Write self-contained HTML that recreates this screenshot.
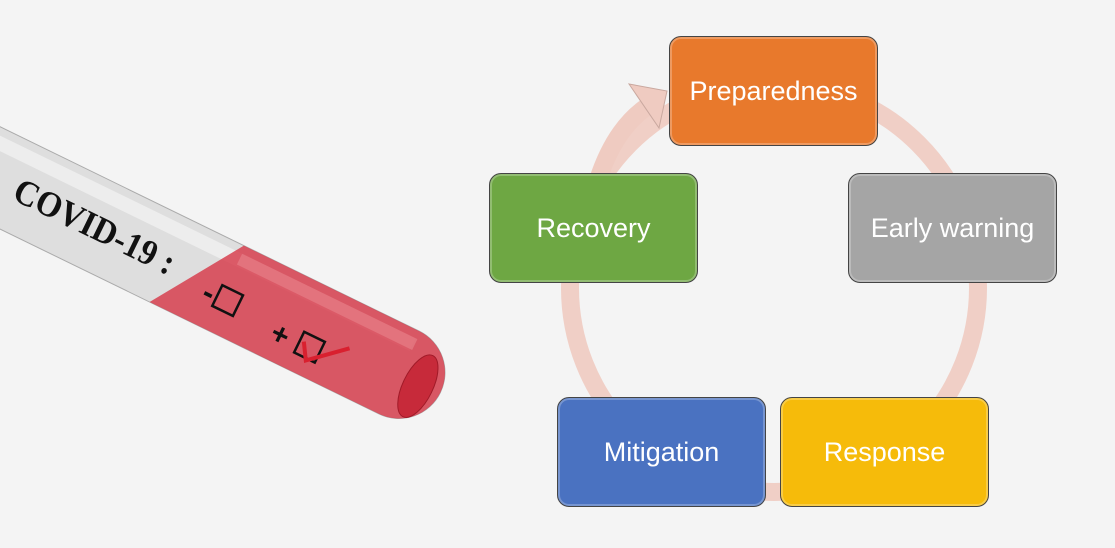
<!DOCTYPE html>
<html><head><style>
body{margin:0;width:1115px;height:548px;background:#f4f4f4;overflow:hidden;font-family:"Liberation Sans",sans-serif}
.b{position:absolute;width:209px;height:110px;border:1.5px solid #444;border-radius:12px;color:#fff;font-size:27px;display:flex;align-items:center;justify-content:center;box-sizing:border-box;box-shadow:inset 0 0 0 2px rgba(255,255,255,.25)}
</style></head><body>
<svg width="1115" height="548" style="position:absolute;left:0;top:0">
<circle cx="774" cy="288" r="204" fill="none" stroke="#efcbc1" stroke-width="18" stroke-opacity=".9"/>
<path d="M598,180 Q615,128 648,106" fill="none" stroke="#efcbc1" stroke-width="18"/>
<polygon points="629,84 667,91 659,128" fill="#efcbc1" stroke="#c9a89f" stroke-width="1"/>
<g transform="translate(-10,173) rotate(26)">
<path d="M-20,-46 L455,-46 A46,46 0 0 1 455,46 L-20,46 Z" fill="#dedede" stroke="#aaa"/>
<rect x="-20" y="-38" width="475" height="14" fill="#ededed"/>
<path d="M260,-46 L455,-46 A46,46 0 0 1 455,46 L200,46 Z" fill="#d7404f" opacity=".85"/>
<rect x="262" y="-38" width="195" height="12" fill="#e8838c" opacity=".6"/>
<ellipse cx="478" cy="4" rx="15" ry="34" fill="#c72a3a" stroke="#a01a28"/>
<text x="30" y="14" font-family="Liberation Serif,serif" font-weight="bold" font-size="36" fill="#111" textLength="175" lengthAdjust="spacingAndGlyphs">COVID-19 :</text>
<text x="244" y="22" font-size="32" font-weight="bold" fill="#111">-</text>
<rect x="258" y="-1" width="23" height="23" fill="none" stroke="#111" stroke-width="2.5"/>
<text x="323" y="28" font-size="30" font-weight="bold" fill="#111">+</text>
<rect x="352" y="5" width="23" height="23" fill="none" stroke="#111" stroke-width="2.5"/>
<path d="M356,14 L366,30 L400,0" fill="none" stroke="#d9202f" stroke-width="4"/>
</g>
</svg>
<div class="b" style="left:669px;top:36px;background:#e8792c">Preparedness</div>
<div class="b" style="left:848px;top:173px;background:#a5a5a5">Early warning</div>
<div class="b" style="left:780px;top:397px;background:#f6bb0a">Response</div>
<div class="b" style="left:557px;top:397px;background:#4a72c1">Mitigation</div>
<div class="b" style="left:489px;top:173px;background:#6ea743">Recovery</div>
</body></html>
